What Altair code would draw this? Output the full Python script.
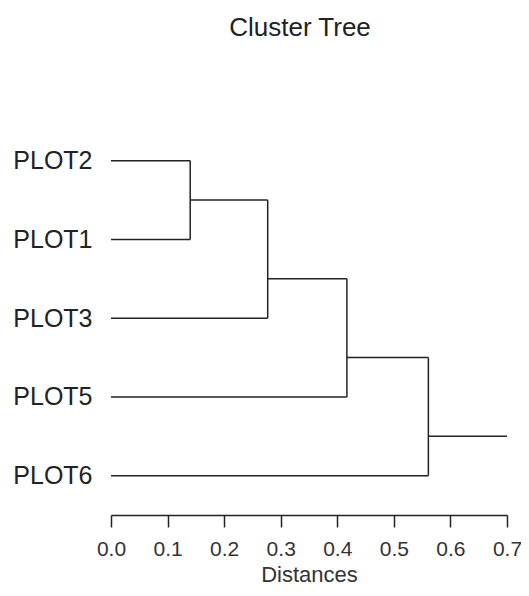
import altair as alt
import pandas as pd

# Data
leaves = ["PLOT2", "PLOT1", "PLOT3", "PLOT5", "PLOT6"]
merge_heights = [0.14, 0.277, 0.417, 0.561]
node_pos = [1.5, 2.5, 3.5, 4.5]   # vertical position of each merged node (leaf slots 1..5)
root_end = 0.70
x_ticks = [0.0, 0.1, 0.2, 0.3, 0.4, 0.5, 0.6, 0.7]

# Build dendrogram segments (chain-shaped tree: each merge adds the next leaf)
leaf_pos = {name: i + 1 for i, name in enumerate(leaves)}
segs = []
cur_x = 0.0
cur_y = leaf_pos[leaves[0]]
for k, h in enumerate(merge_heights):
    other = leaves[k + 1]
    oy = leaf_pos[other]
    segs.append(dict(x=cur_x, x2=h, y=cur_y, y2=cur_y))
    segs.append(dict(x=0.0, x2=h, y=oy, y2=oy))
    segs.append(dict(x=h, x2=h, y=cur_y, y2=oy))
    cur_x = h
    cur_y = node_pos[k]
segs.append(dict(x=cur_x, x2=root_end, y=cur_y, y2=cur_y))
df = pd.DataFrame(segs)

label_expr = "[" + ",".join("'%s'" % n for n in leaves) + "][datum.value - 1]"

chart = alt.Chart(df).mark_rule(color="#222222", strokeWidth=1.5).encode(
    x=alt.X("x:Q", scale=alt.Scale(domain=[0, 0.7], nice=False, zero=False),
            axis=alt.Axis(title="Distances", values=x_ticks, format=".1f",
                          grid=False, domainColor="#222222", tickColor="#222222",
                          domainWidth=1.5, tickWidth=1.5,
                          tickSize=12, labelFontSize=21, labelColor="#333333",
                          labelPadding=11, titleFontSize=22, titleColor="#333333",
                          titleFontWeight="normal", titlePadding=5,
                          labelFlush=False)),
    x2="x2:Q",
    y=alt.Y("y:Q", scale=alt.Scale(domain=[0, 5.5], reverse=True, nice=False, zero=False),
            axis=alt.Axis(title=None, values=list(range(1, len(leaves) + 1)),
                          labelExpr=label_expr, domain=False, ticks=False, grid=False,
                          labelFontSize=25, labelColor="#222222", labelPadding=19,
                          labelBaseline="middle")),
    y2="y2:Q",
).properties(
    width=396,
    height=433,
    title=alt.TitleParams("Cluster Tree", fontSize=26, fontWeight="normal",
                          color="#222222", anchor="middle", dx=-9, offset=20,
                          baseline="alphabetic"),
    autosize=alt.AutoSizeParams(type="none"),
    padding={"left": 103, "top": 74, "right": 14, "bottom": 73},
).configure(
    font="Liberation Sans",
).configure_view(stroke=None)

chart.save("out.html", embed_options={"renderer": "svg", "actions": False})
